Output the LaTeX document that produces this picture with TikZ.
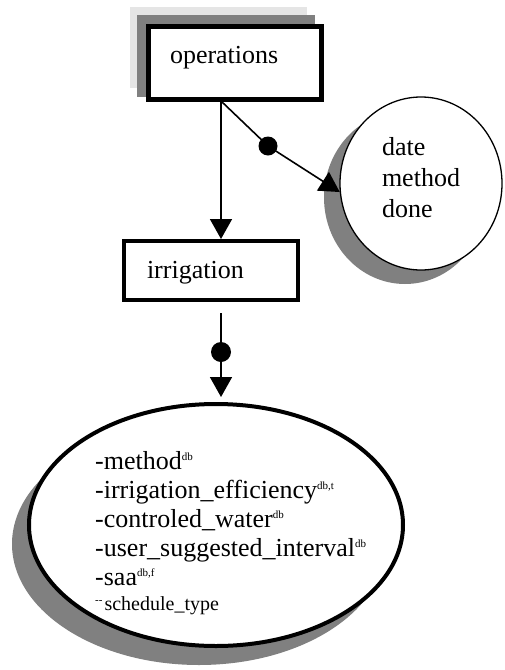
\documentclass[tikz,border=0pt]{standalone}
\usepackage{fontspec}
\setmainfont{Liberation Serif}
\usetikzlibrary{arrows.meta,calc,shapes.geometric}
\newcommand\sps[1]{\raisebox{9pt}{\fontsize{11}{11}\selectfont #1}}
\begin{document}
\begin{tikzpicture}[x=1pt,y=-1pt,
  box/.style={draw, fill=white, rectangle, align=left, inner ysep=0pt, font=\fontsize{26}{30}\selectfont},
  bubble/.style={draw, ellipse, fill=white, inner sep=0pt},
  conn/.style={line width=1.6pt, -{Triangle[width=22pt,length=20pt]}},
  dotn/.style={circle, fill=black, inner sep=0pt, minimum size=20pt},
  shadowdark/.style={fill=black!50, draw=none},
  shadowlight/.style={fill=black!10, draw=none},
  ]
\useasboundingbox (0,0) rectangle (504,670);
% operations box with its shadows
\fill[shadowlight] (130,7) rectangle (307,88);
\fill[shadowdark] (137,15) rectangle (315,97);
\node[box, line width=5pt, minimum width=173pt, minimum height=73pt, text width=129pt, inner xsep=22pt, text height=12pt, text depth=11pt] (ops) at (234.5,62.5) {operations};
% irrigation box
\node[box, line width=4pt, minimum width=174pt, minimum height=59pt, text width=128pt, inner xsep=23pt, text height=20pt, text depth=5pt] (irr) at (211,270.5) {irrigation};
% circle with shadow
\fill[shadowdark] (405,197.5) ellipse [x radius=81, y radius=86.5];
\node[bubble, line width=1.3pt, minimum width=162pt, minimum height=173pt, align=left, font=\fontsize{26}{31}\selectfont] (circ) at (421,183.5) {date\\method\\done\rule[-13pt]{0pt}{13pt}};
% big ellipse with shadow
\fill[shadowdark] (199,544) ellipse [x radius=187, y radius=121];
\node[bubble, line width=4pt, minimum width=374pt, minimum height=242pt] (big) at (216,525) {};
\node[anchor=north west, inner sep=0pt, align=left, font=\fontsize{26}{29}\selectfont] (bigtext) at (95,451.4) {-method\sps{db}\\
-irrigation\_efficiency\sps{db,t}\\
-controled\_water\sps{db}\\
-user\_suggested\_interval\sps{db}\\
-saa\sps{db,f}\\[-4pt]
{\fontsize{20}{24}\selectfont\raisebox{7pt}{\fontsize{11}{11}\selectfont -{}-}\hspace{2pt}schedule\_type}};
% connectors
\coordinate (split) at (221,101);
\node[dotn, minimum size=19pt] (d1) at (268,146) {};
\draw[conn] (split) -- (split |- irr.north);
\draw[conn] (split) -- (d1.center) -- (circ.186);
\coordinate (tail) at (221,313);
\node[dotn] (d2) at (221,352) {};
\draw[conn, shorten >=5pt] (tail) -- (d2.center) -- (tail |- big.north);
\end{tikzpicture}
\end{document}
